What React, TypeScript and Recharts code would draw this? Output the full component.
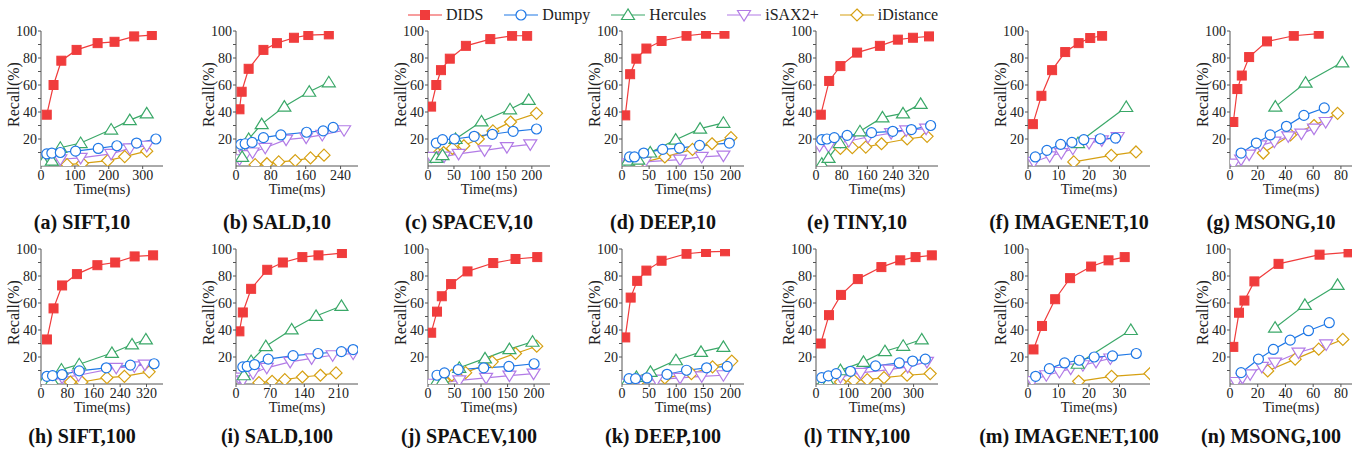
import React from 'react';
import { LineChart, Line, XAxis, YAxis } from 'recharts';

// Recall(%) vs query time(ms), one small object of [time, recall] points per panel

const siftK10 = {
  DIDS: [[17, 38], [37, 60], [60, 78], [105, 86], [167, 91], [217, 92], [275, 96], [327, 97]],
  Dumpy: [[17, 9], [32, 9.6], [57, 10], [102, 11], [169, 13], [224, 15], [282, 17], [339, 20]],
  Hercules: [[7, 3], [32, 4], [57, 13.5], [117, 17], [207, 27], [262, 34], [312, 39]],
  'iSAX2+': [[12, 2], [57, 5], [117, 6], [207, 9], [262, 13], [312, 15]],
  iDistance: [[77, 1], [122, 2], [197, 4], [247, 7], [312, 11]],
};
const saldK10 = {
  DIDS: [[8, 42], [13, 55], [29, 72], [63, 86], [94, 91], [133, 95], [166, 97], [213, 97.5]],
  Dumpy: [[11, 16], [21, 16.5], [37, 17.5], [63, 21], [103, 23], [162, 25], [200, 26], [223, 28.6]],
  Hercules: [[14, 6.7], [29, 20], [59, 31], [111, 44], [168, 55], [213, 62]],
  'iSAX2+': [[8, 5], [21, 8], [38, 10], [67, 13.5], [115, 19.5], [161, 21], [198, 23], [248, 26.5]],
  iDistance: [[44, 1], [71, 1.7], [98, 3], [136, 4], [171, 6], [202, 8]],
};
const spacevK10 = {
  DIDS: [[6, 44], [16, 60], [25, 71], [42, 79.5], [73, 89], [120, 94], [162, 96.5], [191, 96.5]],
  Dumpy: [[16, 17], [28, 19.5], [51, 20], [89, 22], [124, 23.5], [164, 25.7], [209, 27.4]],
  Hercules: [[16, 6], [28, 8], [53, 20], [103, 33], [158, 42], [194, 49]],
  'iSAX2+': [[6, 6.7], [31, 7], [59, 9], [109, 11.6], [152, 14], [197, 16]],
  iDistance: [[19, 9], [30, 10], [47, 13], [69, 15], [97, 20], [125, 26], [159, 32.6], [209, 39]],
};
const deepK10 = {
  DIDS: [[6, 37.5], [15, 68], [26.5, 79.5], [45, 87], [73, 92.6], [119, 96.5], [155, 98], [189, 98]],
  Dumpy: [[14, 6.7], [23, 6.7], [40, 9.6], [75, 12.3], [106, 13.3], [143, 15.3], [198, 17]],
  Hercules: [[11, 4], [30, 4.7], [52, 10], [99, 19.5], [144, 27.7], [187, 32]],
  'iSAX2+': [[2, 2], [11, 1], [42, 3], [107, 4.7], [147, 6.7], [187, 7.7]],
  iDistance: [[30, 1.7], [79, 6.7], [130, 12.3], [166, 16.5], [201, 21]],
};
const tinyK10 = {
  DIDS: [[15, 38], [41, 63], [76, 74], [128, 84], [199, 89], [255, 93.6], [302, 95], [352, 96]],
  Dumpy: [[18, 19.5], [34, 20], [57, 21], [97, 22.7], [173, 24.7], [239, 25.7], [297, 27], [357, 30]],
  Hercules: [[18, 1.7], [39, 6], [74, 17], [137, 25.7], [207, 36], [271, 39], [326, 46]],
  'iSAX2+': [[11, 15], [39, 14.5], [76, 17.8], [102, 18.5], [162, 21.5], [234, 24.4], [281, 26.4], [343, 27.7]],
  iDistance: [[76, 13], [113, 13.6], [155, 14], [204, 16.5], [284, 20], [346, 22]],
};
const imagenetK10 = {
  DIDS: [[1.6, 31], [4.4, 52], [7.9, 71], [12.2, 84.4], [16.6, 91], [20.4, 94.8], [24.3, 96.5]],
  Dumpy: [[2.4, 6.7], [6.2, 11.6], [10.7, 16], [14.4, 17.5], [18.3, 19.5], [23.7, 20.2], [28.7, 20.7]],
  Hercules: [[16.4, 17], [32.2, 43.7]],
  'iSAX2+': [[1.9, 3], [7.1, 7.2], [10.9, 9.6], [14.7, 12.8], [20, 17], [24.2, 19], [29.4, 21.5]],
  iDistance: [[15, 3], [27.3, 7.9], [35.4, 10.4]],
};
const msongK10 = {
  DIDS: [[2.4, 32.6], [5.3, 57], [8.5, 67], [13.8, 80.7], [26.7, 92.3], [46, 96.5], [64, 98]],
  Dumpy: [[8, 9.6], [19, 17], [29, 23], [40.7, 29.4], [53.3, 37.5], [68, 43]],
  Hercules: [[32.7, 44], [54.5, 61.7], [81, 76.8]],
  'iSAX2+': [[2.4, 1.7], [8, 4.7], [13.8, 8.4], [21.8, 15.3], [32, 18], [42, 22], [51.5, 24], [60.6, 27.7], [69, 32.6]],
  iDistance: [[24, 9.6], [43.6, 23], [60.6, 30], [77.6, 39]],
};
const siftK100 = {
  DIDS: [[18, 33], [38, 56], [64, 73], [109, 81.4], [171, 88], [225, 90], [284, 94.5], [340, 95.3]],
  Dumpy: [[18, 5.7], [35, 6.2], [64, 7], [116, 9.7], [198, 12], [271, 14], [343, 15]],
  Hercules: [[8, 1.5], [33, 2.7], [62, 10.7], [116, 14.6], [215, 23], [276, 29.3], [318, 33]],
  'iSAX2+': [[3, 0.7], [64, 4.7], [114, 6.5], [228, 12], [283, 13], [315, 14.4]],
  iDistance: [[89, 1.5], [124, 1.5], [200, 4.7], [253, 5.7], [328, 9]],
};
const saldK100 = {
  DIDS: [[7, 39], [14, 53], [31, 70.5], [64, 84.6], [96, 90], [136, 94], [169, 95.3], [217, 97]],
  Dumpy: [[14, 12.7], [23, 13], [38, 14.4], [66, 18.4], [117, 21], [168, 22.6], [216, 24], [240, 25.5]],
  Hercules: [[16, 6.5], [31, 17], [61, 28], [114, 40.4], [164, 50.4], [216, 57.8]],
  'iSAX2+': [[5.5, 4.7], [14, 2.7], [35, 8], [63, 12], [111, 16.4], [155, 19], [198, 21.3], [240, 22.6]],
  iDistance: [[47, 1], [74, 2], [100, 3.2], [136, 5.2], [173, 6.5], [205, 8.2]],
};
const spacevK100 = {
  DIDS: [[6, 38], [17, 53.6], [26, 65], [43.5, 74], [74.5, 83.4], [123, 89.6], [165, 92.6], [206, 94]],
  Dumpy: [[17, 6.5], [31, 8.2], [57, 10.7], [105, 12], [152.5, 13], [200, 15]],
  Hercules: [[15.5, 1.5], [28, 2.7], [59, 12], [107.5, 19], [153.5, 25.8], [197, 31.3]],
  'iSAX2+': [[6, 0.2], [22, 0.7], [59, 2.7], [109.5, 4.5], [153.5, 6.2], [199, 7.7]],
  iDistance: [[15.5, 1.5], [30, 2.7], [45, 6.5], [71, 8.4], [121, 16.4], [165, 22.6], [205, 28]],
};
const deepK100 = {
  DIDS: [[6, 34.5], [16, 64], [28, 76.4], [45, 84], [73, 91.3], [119, 96.5], [155, 97.8], [190, 98.3]],
  Dumpy: [[13, 4], [25, 4], [46, 4.5], [83, 7.2], [119, 10.2], [156, 12], [194, 13]],
  Hercules: [[8, 0.7], [26.5, 5.2], [52.5, 9], [99.4, 17.6], [145.7, 23.8], [187, 27.5]],
  'iSAX2+': [[2, 0.2], [28, 2.7], [64, 3.2], [107, 4.5], [147, 5.7], [187, 6.5]],
  iDistance: [[30, 1.5], [79, 4.5], [128, 7.7], [167, 12.7], [202.5, 17]],
};
const tinyK100 = {
  DIDS: [[14.5, 30], [40, 51], [77, 66], [128.5, 77.7], [201, 86.6], [259, 91.6], [306, 94], [356, 95.3]],
  Dumpy: [[17.6, 4.7], [38, 6], [62, 7.7], [106, 9.4], [183, 13.4], [256, 15.6], [297, 17], [336, 18.4]],
  Hercules: [[17.6, 0.2], [38, 1.5], [75, 10.2], [146, 16.4], [212, 24.3], [268, 28.3], [325, 33]],
  'iSAX2+': [[75, 5.2], [137, 8.2], [225, 10.7], [282, 12.7], [341, 16.4]],
  iDistance: [[75, 1.5], [116, 2.7], [157.5, 3.2], [209, 4.7], [280, 6.5], [351, 7.7]],
};
const imagenetK100 = {
  DIDS: [[1.8, 25.6], [4.6, 43], [8.9, 62.8], [13.8, 78.4], [20.7, 87], [26.4, 91.6], [31.7, 94]],
  Dumpy: [[2.5, 5.7], [7, 11.4], [12, 15.6], [16.8, 17.6], [21.7, 20], [27.7, 20.8], [35.5, 22.6]],
  Hercules: [[16.3, 15], [33.7, 40]],
  'iSAX2+': [[1.4, 2.2], [6, 6.5], [10.3, 8.9], [14, 11.4], [18, 13.9], [22.3, 16.4], [27, 18.9]],
  iDistance: [[16.6, 2], [27.4, 5.7], [40, 7.7]],
};
const msongK100 = {
  DIDS: [[2.4, 27.5], [6.5, 52.8], [10.4, 61.8], [17.6, 76], [35, 89], [64.6, 95.8], [85.5, 97.5]],
  Dumpy: [[8, 8.4], [20.5, 18.4], [31.3, 25.6], [43.4, 32.5], [56.6, 39.5], [71.6, 45.4]],
  Hercules: [[32.5, 41.7], [54, 58.6], [77.6, 73.4]],
  'iSAX2+': [[4.3, 1.5], [9, 4.5], [14.5, 7.2], [23, 12.7], [32.5, 15.9], [49.4, 23.3], [69.4, 29.3]],
  iDistance: [[27.2, 9.7], [47, 18.4], [64, 25.8], [81.4, 33]],
};

const panels = [
  siftK10, saldK10, spacevK10, deepK10, tinyK10, imagenetK10, msongK10,
  siftK100, saldK100, spacevK100, deepK100, tinyK100, imagenetK100, msongK100,
];
const captions = [
  '(a) SIFT,10', '(b) SALD,10', '(c) SPACEV,10', '(d) DEEP,10', '(e) TINY,10', '(f) IMAGENET,10', '(g) MSONG,10',
  '(h) SIFT,100', '(i) SALD,100', '(j) SPACEV,100', '(k) DEEP,100', '(l) TINY,100', '(m) IMAGENET,100', '(n) MSONG,100',
];
const timeMax = [360, 280, 235, 225, 380, 40, 88, 370, 250, 230, 225, 375, 40, 88];
const timeTicks = [
  [0, 100, 200, 300], [0, 80, 160, 240], [0, 50, 100, 150, 200], [0, 50, 100, 150, 200],
  [0, 80, 160, 240, 320], [0, 10, 20, 30], [0, 20, 40, 60, 80],
  [0, 80, 160, 240, 320], [0, 70, 140, 210], [0, 50, 100, 150, 200], [0, 50, 100, 150, 200],
  [0, 100, 200, 300], [0, 10, 20, 30], [0, 20, 40, 60, 80],
];
const recallTicks = [10, 20, 30, 40, 50, 60, 70, 80, 90, 100];

const legendOrder = ['DIDS', 'Dumpy', 'Hercules', 'iSAX2+', 'iDistance'];
const drawOrder = ['iDistance', 'iSAX2+', 'Hercules', 'Dumpy', 'DIDS'];
const colors: Record<string, string> = {
  DIDS: '#f03c3c',
  Dumpy: '#1f78e6',
  Hercules: '#3aa868',
  'iSAX2+': '#b27be6',
  iDistance: '#d6a012',
};

const FONT = '"Liberation Serif", "DejaVu Serif", serif';
const AXIS = '#555';
const TEXT = '#222';

// plot-area left edges per column and plot tops per row
const plotLeft = [41, 236, 428, 622, 816, 1028, 1230];
const plotTop = [31, 249];
const PLOT_W = 122;
const PLOT_H = 135;
const TOP_PAD = 12;

const Marker = ({ kind, cx, cy }: { kind: string; cx: number; cy: number }) => {
  const c = colors[kind];
  if (cx == null || cy == null) return null;
  switch (kind) {
    case 'DIDS':
      return <rect x={cx - 4.5} y={cy - 4.5} width={9} height={9} fill={c} stroke={c} />;
    case 'Dumpy':
      return <circle cx={cx} cy={cy} r={5} fill="#fff" stroke={c} strokeWidth={1.2} />;
    case 'Hercules':
      return (
        <polygon
          points={`${cx},${cy - 6} ${cx - 6.5},${cy + 4.5} ${cx + 6.5},${cy + 4.5}`}
          fill="#fff" stroke={c} strokeWidth={1.2}
        />
      );
    case 'iSAX2+':
      return (
        <polygon
          points={`${cx},${cy + 6} ${cx - 6.5},${cy - 4.5} ${cx + 6.5},${cy - 4.5}`}
          fill="#fff" stroke={c} strokeWidth={1.2}
        />
      );
    default:
      return (
        <polygon
          points={`${cx},${cy - 6} ${cx + 6},${cy} ${cx},${cy + 6} ${cx - 6},${cy}`}
          fill="#fff" stroke={c} strokeWidth={1.2}
        />
      );
  }
};

const XTitle = ({ viewBox }: any) => {
  if (!viewBox) return null;
  return (
    <text x={viewBox.x + viewBox.width / 2} y={viewBox.y + 28} textAnchor="middle"
      fontSize={14.5} fontFamily={FONT} fill={TEXT}>
      Time(ms)
    </text>
  );
};

const YTitle = ({ viewBox }: any) => {
  if (!viewBox) return null;
  const x = viewBox.x + viewBox.width - 22;
  const y = viewBox.y + viewBox.height / 2 - 4;
  return (
    <text x={x} y={y} transform={`rotate(-90, ${x}, ${y})`} textAnchor="middle"
      fontSize={16} fontFamily={FONT} fill={TEXT}>
      Recall(%)
    </text>
  );
};

const pts = (arr: number[][]) => arr.map(([t, r]) => ({ t, r }));

const Panel = ({ idx }: { idx: number }) => {
  const col = idx % 7;
  const row = Math.floor(idx / 7);
  const data: Record<string, number[][]> = panels[idx] as any;
  const tickStyle = { fill: TEXT, fontSize: 14, fontFamily: FONT };
  return (
    <>
      <div style={{ position: 'absolute', left: plotLeft[col] - 40, top: plotTop[row] - TOP_PAD }}>
        <LineChart width={40 + PLOT_W + 8} height={TOP_PAD + PLOT_H + 34}
          margin={{ top: TOP_PAD, right: 8, left: 0, bottom: 0 }}>
          <XAxis xAxisId="b" dataKey="t" type="number" domain={[0, timeMax[idx]]}
            ticks={timeTicks[idx]} interval={0} allowDataOverflow height={34}
            stroke={AXIS} tickSize={3} tickMargin={1} tick={tickStyle}
            label={<XTitle />} />
          <XAxis xAxisId="top" orientation="top" type="number" domain={[0, timeMax[idx]]}
            height={0} tick={false} tickLine={false} stroke={AXIS} />
          <YAxis yAxisId="l" type="number" domain={[0, 100]} ticks={recallTicks} interval={0}
            allowDataOverflow width={40} stroke={AXIS} tickSize={3} tickMargin={1}
            tick={tickStyle} tickFormatter={(v: number) => (v % 20 === 0 ? String(v) : '')}
            label={<YTitle />} />
          <YAxis yAxisId="r" orientation="right" domain={[0, 100]} width={0}
            tick={false} tickLine={false} stroke={AXIS} />
          {drawOrder.map((s) => (
            <Line key={s} xAxisId="b" yAxisId="l" data={pts(data[s])} dataKey="r"
              type="linear" stroke={colors[s]} strokeWidth={1.2} isAnimationActive={false}
              activeDot={false}
              dot={(p: any) => <Marker key={`${s}-${p.index}`} kind={s} cx={p.cx} cy={p.cy} />} />
          ))}
        </LineChart>
      </div>
      <div style={{
        position: 'absolute', left: plotLeft[col] + PLOT_W / 2 - 20 - 110, width: 220,
        top: row === 0 ? 210 : 424, textAlign: 'center', fontFamily: FONT, fontWeight: 'bold',
        fontSize: 20, lineHeight: '24px', color: '#111', whiteSpace: 'nowrap',
      }}>
        {captions[idx]}
      </div>
    </>
  );
};

const Legend = () => (
  <div style={{
    position: 'absolute', left: 408, top: 3, height: 24, display: 'flex', alignItems: 'center',
    fontFamily: FONT, fontSize: 16, color: TEXT,
  }}>
    {legendOrder.map((s) => (
      <div key={s} style={{ display: 'flex', alignItems: 'center', marginRight: 21 }}>
        <svg width={34} height={16}>
          <line x1={0} y1={8} x2={34} y2={8} stroke={colors[s]} strokeWidth={1.2} />
          <Marker kind={s} cx={17} cy={8} />
        </svg>
        <span style={{ marginLeft: 4 }}>{s}</span>
      </div>
    ))}
  </div>
);

export default function App() {
  return (
    <div style={{ position: 'absolute', left: 0, top: 0, width: 1366, height: 461, background: '#fff', overflow: 'hidden' }}>
      <Legend />
      {panels.map((_, i) => (
        <Panel key={i} idx={i} />
      ))}
    </div>
  );
}
